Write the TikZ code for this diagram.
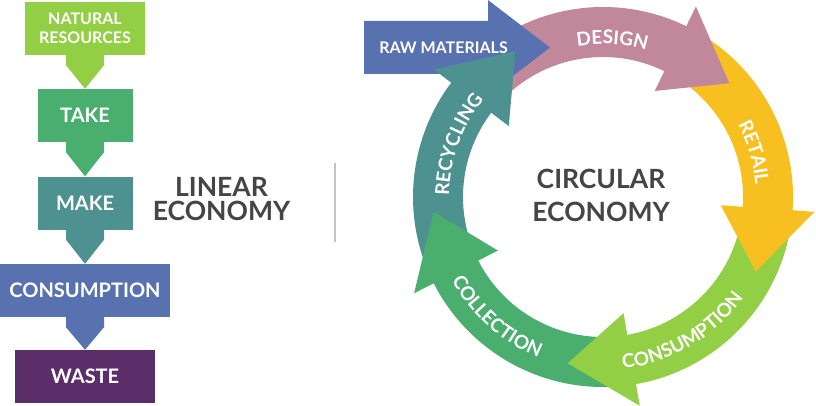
\documentclass[tikz,border=0pt]{standalone}
\usepackage{fontspec}
\setmainfont{Lato}
\usetikzlibrary{decorations.text,calc}
\definecolor{cpink}{HTML}{C0889A}
\definecolor{cyellow}{HTML}{F7C020}
\definecolor{clgreen}{HTML}{93CF45}
\definecolor{cgreen}{HTML}{4AAE6F}
\definecolor{cteal}{HTML}{4D9290}
\definecolor{cblue}{HTML}{5872B0}
\definecolor{cpurple}{HTML}{5B2E6A}
\definecolor{cgray}{HTML}{454545}
\definecolor{csep}{HTML}{C4C4C4}
\newcommand\ringband[3]{%
  \fill[#1] (#2:140) arc[start angle=#2, end angle=#3, radius=140] -- (#3:190) arc[start angle=#3, end angle=#2, radius=190] -- cycle;}
\newcommand\ringhead[2]{%
  \fill[#1] (#2:118) -- ({#2-22}:170) -- (#2:212) -- cycle;}
\newcommand\arclabelfont{\bfseries\fontsize{19}{19}\selectfont}
\newcommand\cwlabel[3]{%
  \path[decorate,decoration={text along path,text align=center,text color=white,text={|\arclabelfont|#1}}]
    ({#2+50}:#3) arc[start angle={#2+50}, end angle={#2-50}, radius=#3];}
\newcommand\ccwlabel[3]{%
  \path[decorate,decoration={text along path,text align=center,text color=white,text={|\arclabelfont|#1}}]
    ({#2-50}:#3) arc[start angle={#2-50}, end angle={#2+50}, radius=#3];}
\newcommand\linkarrow[3]{%
  \fill[#1] ($(#2.south)+(-19,0.5)$) -- ++(0,-10.5) -- (#3.north) -- ($(#2.south)+(19,-10)$) -- ($(#2.south)+(19,0.5)$) -- cycle;}
\tikzset{
  box/.style={fill=#1, text=white, font=\bfseries\fontsize{20}{24}\selectfont, minimum height=53pt, inner sep=0pt, align=center},
  bigtitle/.style={text=cgray, font=\bfseries\fontsize{26.5}{30}\selectfont, inner sep=0pt, anchor=base}
}
\begin{document}
\begin{tikzpicture}[x=1pt,y=1pt]
\useasboundingbox (0,0) rectangle (816,405);
% ---------- linear economy ----------
\node[box=clgreen, minimum width=120pt, font=\bfseries\fontsize{16}{19}\selectfont] (nr) at (85,376.5) {NATURAL\\RESOURCES};
\node[box=cgreen, minimum width=95pt] (take) at (85,289.5) {TAKE};
\node[box=cteal, minimum width=95pt] (make) at (85,202) {MAKE};
\node[box=cblue, minimum width=170pt] (cons) at (85,114.5) {CONSUMPTION};
\node[box=cpurple, minimum width=140pt] (waste) at (85,28.5) {WASTE};
\linkarrow{clgreen}{nr}{take}
\linkarrow{cgreen}{take}{make}
\linkarrow{cteal}{make}{cons}
\linkarrow{cblue}{cons}{waste}
\node[bigtitle] (lin1) at (221.5,208.3) {LINEAR};
\node[bigtitle] (lin2) at (221.5,184.5) {ECONOMY};
\coordinate (septop) at (335,242);
\coordinate (sepbot) at (335,163);
\draw[csep, line width=2.5pt] (septop) -- (sepbot);
% ---------- circular economy ----------
\begin{scope}[shift={(603,208)}]
\ringband{cpink}{135}{61}
\ringband{cyellow}{56}{-7}
\ringband{clgreen}{-12}{-83}
\ringband{cgreen}{-88}{-156}
\ringband{cteal}{-161}{-220}
\end{scope}
% raw materials arrow
\fill[cblue] (364,331) -- (488,331) -- (488,310) -- (550,357.5) -- (488,405) -- (488,384) -- (364,384) -- cycle;
\node[text=white, font=\bfseries\fontsize{16}{16}\selectfont, inner sep=0pt] (raw) at (443.5,357.5) {RAW MATERIALS};
\begin{scope}[shift={(603,208)}]
\ringhead{cpink}{64}
\ringhead{cyellow}{-4}
\ringhead{clgreen}{-80}
\ringhead{cgreen}{-153}
\ringhead{cteal}{-217}
\cwlabel{DESIGN}{86.6}{153}
\cwlabel{RETAIL}{16.5}{153}
\cwlabel{RECYCLING}{160}{154}
\ccwlabel{CONSUMPTION}{-59.5}{173}
\ccwlabel{COLLECTION}{-131.5}{173}
\end{scope}
\node[bigtitle] (cir1) at (601,216.7) {CIRCULAR};
\node[bigtitle] (cir2) at (601,183.3) {ECONOMY};
\end{tikzpicture}
\end{document}
